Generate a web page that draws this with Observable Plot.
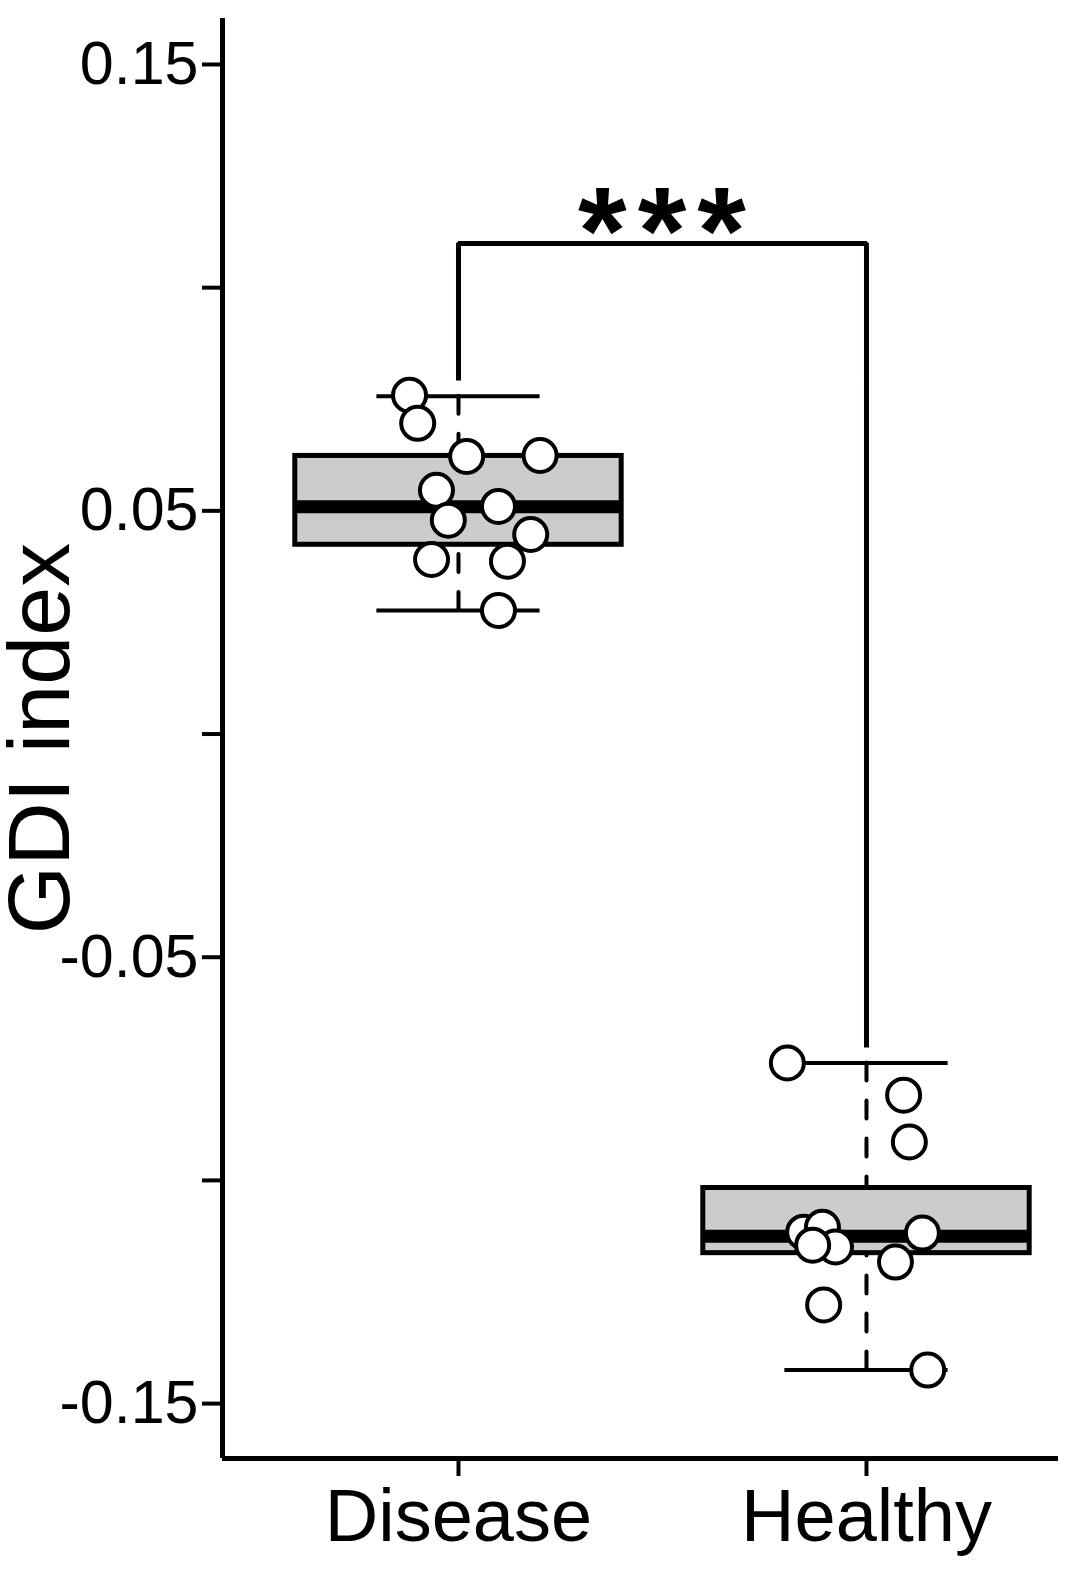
<!DOCTYPE html>
<html>
<head>
<meta charset="utf-8">
<script src="https://cdn.jsdelivr.net/npm/d3@7"></script>
<script src="https://cdn.jsdelivr.net/npm/@observablehq/plot@0.6"></script>
<style>
  html, body { margin: 0; padding: 0; background: #ffffff; }
  #chart svg { display: block; }
</style>
</head>
<body>
<div id="chart"></div>
<script>
// ---- data ----
const categories = ["Disease", "Healthy"];

// box statistics per category
const whiskerLow  = [0.0277, -0.1425];
const q1          = [0.0424, -0.1163];
const medians     = [0.0509, -0.1125];
const q3          = [0.0623, -0.1017];
const whiskerHigh = [0.0757, -0.0737];

// individual observations (value) and their horizontal jitter (in category units)
const diseaseValues = [0.0759, 0.0696, 0.0622, 0.0624, 0.0546, 0.0479, 0.0510, 0.0391, 0.0387, 0.0447, 0.0277];
const diseaseJitter = [-0.12, -0.10, 0.02, 0.20, -0.054, -0.025, 0.098, -0.066, 0.12, 0.177, 0.098];
const healthyValues = [-0.0737, -0.0809, -0.0914, -0.1116, -0.1105, -0.1149, -0.1145, -0.1118, -0.1183, -0.1279, -0.1425];
const healthyJitter = [-0.194, 0.091, 0.105, -0.154, -0.108, -0.076, -0.132, 0.137, 0.071, -0.105, 0.150];

// y-axis ticks
const yTickValues = [-0.15, -0.10, -0.05, 0.00, 0.05, 0.10, 0.15];
const yTickLabels = ["-0.15", "", "-0.05", "", "0.05", "", "0.15"];

// significance annotation
const bracketTop = 0.1099;
const bracketEnds = [0.0792, -0.0702];
const significance = "***";
const yTitle = "GDI index";

// ---- derived tables ----
const boxes = categories.map((c, i) => ({
  cat: c, pos: i + 1,
  lo: whiskerLow[i], q1: q1[i], med: medians[i], q3: q3[i], hi: whiskerHigh[i]
}));
const points = [
  ...diseaseValues.map((v, k) => ({pos: 1 + diseaseJitter[k], value: v})),
  ...healthyValues.map((v, k) => ({pos: 2 + healthyJitter[k], value: v}))
];
const bracket = [
  {pos: 1, value: bracketEnds[0]},
  {pos: 1, value: bracketTop},
  {pos: 2, value: bracketTop},
  {pos: 2, value: bracketEnds[1]}
];

const BOX_HALF = 0.4, CAP_HALF = 0.2;
const xDomain = [0.4216, 2.4706];
const yDomain = [-0.1623, 0.1603];

const chart = Plot.plot({
  width: 1080,
  height: 1569,
  marginTop: 18,
  marginBottom: 111,
  marginLeft: 222,
  marginRight: 22,
  style: {fontFamily: "'Liberation Sans', Arial, Helvetica, sans-serif", background: "#ffffff", color: "#000000"},
  x: {type: "linear", domain: xDomain, axis: null},
  y: {type: "linear", domain: yDomain, axis: null},
  marks: [
    // axes lines
    Plot.ruleX([xDomain[0]], {stroke: "#000", strokeWidth: 5}),
    Plot.ruleY([yDomain[0]], {stroke: "#000", strokeWidth: 5, x1: xDomain[0], x2: xDomain[1]}),
    Plot.axisY({
      anchor: "left", ticks: yTickValues,
      tickFormat: d => yTickLabels[yTickValues.findIndex(t => Math.abs(t - d) < 1e-9)],
      tickSize: 20, tickPadding: 4, fontSize: 61, strokeWidth: 4, label: null, fill: "#000"
    }),
    Plot.axisX({
      anchor: "bottom", ticks: [1, 2],
      tickFormat: d => categories[Math.round(d) - 1],
      tickSize: 18, tickPadding: 12, fontSize: 74, strokeWidth: 4, label: null, fill: "#000"
    }),
    // whiskers (dashed, from whisker end to box edge)
    Plot.ruleX(boxes, {x: "pos", y1: "hi", y2: "q3", stroke: "#000", strokeWidth: 4, strokeDasharray: "18,20", strokeLinecap: "round"}),
    Plot.ruleX(boxes, {x: "pos", y1: "lo", y2: "q1", stroke: "#000", strokeWidth: 4, strokeDasharray: "18,20", strokeLinecap: "round"}),
    // staples
    Plot.ruleY(boxes, {y: "hi", x1: d => d.pos - CAP_HALF, x2: d => d.pos + CAP_HALF, stroke: "#000", strokeWidth: 4}),
    Plot.ruleY(boxes, {y: "lo", x1: d => d.pos - CAP_HALF, x2: d => d.pos + CAP_HALF, stroke: "#000", strokeWidth: 4}),
    // boxes
    Plot.rect(boxes, {x1: d => d.pos - BOX_HALF, x2: d => d.pos + BOX_HALF, y1: "q1", y2: "q3",
      fill: "#cccccc", stroke: "#000", strokeWidth: 5, strokeLinejoin: "miter"}),
    // medians
    Plot.ruleY(boxes, {y: "med", x1: d => d.pos - BOX_HALF, x2: d => d.pos + BOX_HALF, stroke: "#000", strokeWidth: 13}),
    // significance bracket
    Plot.line(bracket, {x: "pos", y: "value", stroke: "#000", strokeWidth: 5, strokeLinejoin: "miter", strokeLinecap: "butt", curve: "linear"}),
    Plot.text([significance], {x: 1.5, y: bracketTop, text: d => d, fontSize: 125, fontWeight: "bold",
      lineAnchor: "bottom", textAnchor: "middle", dy: 31, dx: 5, fill: "#000"}),
    // points
    Plot.dot(points, {x: "pos", y: "value", r: 16.5, fill: "#ffffff", stroke: "#000", strokeWidth: 4}),
    // y title
    Plot.text([yTitle], {text: d => d, frameAnchor: "left", rotate: -90, lineAnchor: "bottom",
      textAnchor: "middle", dx: -154, fontSize: 88, fill: "#000"})
  ]
});
// widen the spacing of the significance stars
d3.select(chart).selectAll("text").filter(function() { return this.textContent === significance; })
  .attr("letter-spacing", 11);
document.getElementById("chart").appendChild(chart);
</script>
</body>
</html>
